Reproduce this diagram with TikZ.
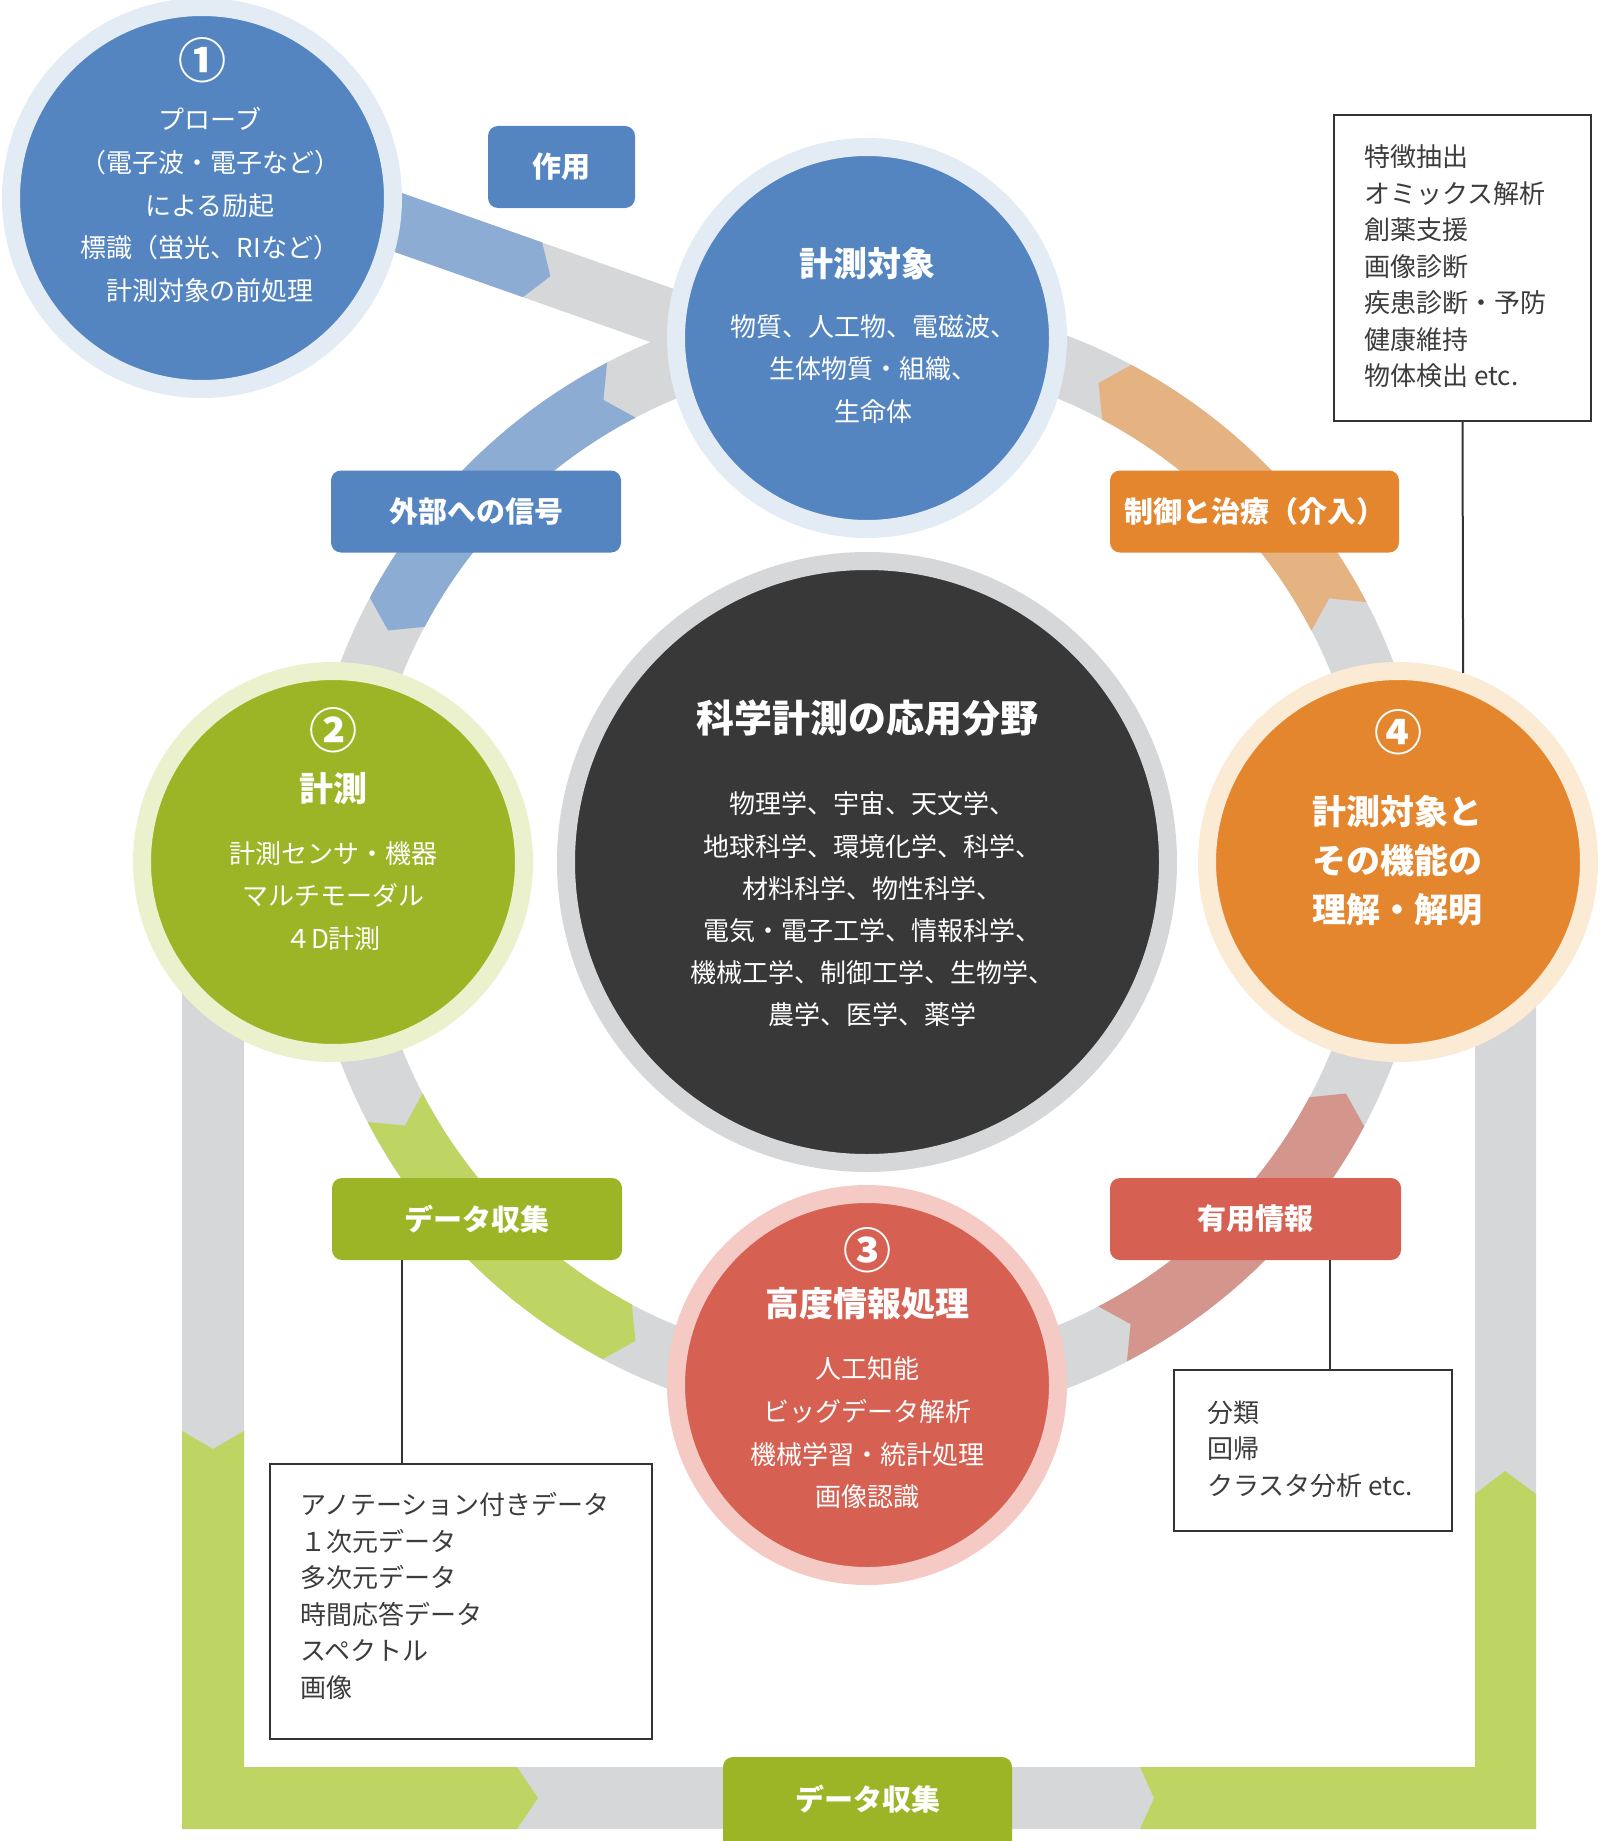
\documentclass[tikz,border=0pt]{standalone}
\usepackage{fontspec}
\setmainfont{Noto Sans CJK JP}
\definecolor{cblue}{HTML}{5485C0}
\definecolor{ablue}{HTML}{8DACD3}
\definecolor{hblue}{HTML}{E3ECF5}
\definecolor{cgreen}{HTML}{9CB526}
\definecolor{agreen}{HTML}{BED564}
\definecolor{hgreen}{HTML}{EBF1CD}
\definecolor{cred}{HTML}{D66152}
\definecolor{ared}{HTML}{D4958C}
\definecolor{hred}{HTML}{F5CAC5}
\definecolor{corange}{HTML}{E3862E}
\definecolor{aorange}{HTML}{E5B282}
\definecolor{horange}{HTML}{FCEBD4}
\definecolor{cdark}{HTML}{383838}
\definecolor{bandgray}{HTML}{D6D7D9}
\definecolor{txtgray}{HTML}{3C3C3C}
\definecolor{boxline}{HTML}{333333}
\begin{document}
\begin{tikzpicture}[x=0.5pt,y=-0.5pt,
  every node/.style={inner sep=0pt},
  body/.style={text=white,align=center,font=\fontsize{13}{21.3}\selectfont},
  heading/.style={text=white,align=center,font=\fontsize{17}{24.5}\selectfont\bfseries},
  num/.style={text=white,font=\fontsize{24}{24}\selectfont\bfseries},
  stage/.style={circle,minimum size=191pt,line width=9pt},
  tag/.style={rounded corners=5pt,minimum height=41pt,text=white,font=\fontsize{14.5}{14.5}\selectfont\bfseries},
  infobox/.style={draw=boxline,line width=1.2pt,fill=white},
  infotext/.style={anchor=west,align=left,text=txtgray,font=\fontsize{13}{18.25}\selectfont},
  link/.style={draw=boxline,line width=1pt}]
  \clip (0,0) rectangle (1600,1841);
  \coordinate (ctr) at (867,862);
  \fill[bandgray,even odd rule] (ctr) circle[radius=563] (ctr) circle[radius=501];
  \fill[bandgray] (219.6,128.9) -- (719.3,304.9) -- (700.1,359.6) -- (200.4,183.6) -- cycle;
  \fill[ablue] (219.6,128.9) -- (542.1,242.4) -- (550.4,276.2) -- (522.9,297.1) -- (200.4,183.6) -- cycle;
  \foreach \col/\a in {aorange/27.5,ablue/117.5,agreen/207.5,ared/297.5} {
    \pgfmathsetmacro\b{\a+34.5}
    \fill[\col] ([shift={(ctr)}]-\a:563) arc[start angle=-\a,end angle=-\b,radius=563]
      -- ([shift={(ctr)}]-\b-2.2:532) -- ([shift={(ctr)}]-\b:501)
      arc[start angle=-\b,end angle=-\a,radius=501]
      -- ([shift={(ctr)}]-\a-2.2:532) -- cycle;
  }
  \fill[bandgray] (182,862) -- (182,1829) -- (1536,1829) -- (1536,862) -- (1475,862) -- (1475,1767) -- (244,1767) -- (244,862) -- cycle;
  \fill[agreen] (182,1431) -- (213,1449) -- (244,1431) -- (244,1767) -- (517,1767) -- (538,1798) -- (517,1829) -- (182,1829) -- cycle;
  \fill[agreen] (1140,1767) -- (1154,1798) -- (1140,1829) -- (1536,1829) -- (1536,1494) -- (1505,1471) -- (1475,1494) -- (1475,1767) -- cycle;

  \node[stage,fill=cblue,draw=hblue] (probe) at (202,198) {};
  \node[stage,fill=cblue,draw=hblue] (target) at (867,338) {};
  \node[stage,fill=cgreen,draw=hgreen] (measure) at (333,862) {};
  \node[stage,fill=corange,draw=horange] (understand) at (1398,862) {};
  \node[stage,fill=cred,draw=hred] (process) at (867,1385) {};
  \node[circle,minimum size=301pt,line width=9pt,fill=cdark,draw=bandgray] (field) at (ctr) {};

  \node[num] (probenum) at (202,60) {①};
  \node[body] (probetxt) at (210,205) {プローブ\\（電子波・電子など）\\による励起\\標識（蛍光、RIなど）\\計測対象の前処理};
  \node[heading] (targethead) at (867,264) {計測対象};
  \node[body] (targettxt) at (873,369) {物質、人工物、電磁波、\\生体物質・組織、\\生命体};
  \node[text=white,font=\fontsize{19}{19}\selectfont\bfseries] (fieldhead) at (867,718) {科学計測の応用分野};
  \node[body,font=\fontsize{13}{21.1}\selectfont] (fieldtxt) at (872,909.5) {物理学、宇宙、天文学、\\地球科学、環境化学、科学、\\材料科学、物性科学、\\電気・電子工学、情報科学、\\機械工学、制御工学、生物学、\\農学、医学、薬学};
  \node[num] (measurenum) at (333,730) {②};
  \node[heading] (measurehead) at (333,789) {計測};
  \node[body] (measuretxt) at (333,896) {計測センサ・機器\\マルチモーダル\\４D計測};
  \node[num] (understandnum) at (1398,732) {④};
  \node[heading] (understandhead) at (1397,861) {計測対象と\\その機能の\\理解・解明};
  \node[num] (processnum) at (867,1250) {③};
  \node[heading] (processhead) at (867,1304) {高度情報処理};
  \node[body] (processtxt) at (867,1433) {人工知能\\ビッグデータ解析\\機械学習・統計処理\\画像認識};

  \node[tag,fill=cblue,minimum width=73.5pt] (act) at (561.5,167) {作用};
  \node[tag,fill=cblue,minimum width=145pt] (signal) at (476,511.5) {外部への信号};
  \node[tag,fill=corange,minimum width=144.5pt] (control) at (1254.5,511.5) {制御と治療（介入）};
  \node[tag,fill=cgreen,minimum width=145pt] (collect) at (477,1219) {データ収集};
  \node[tag,fill=cred,minimum width=145.5pt] (useful) at (1255.5,1219) {有用情報};
  \node[tag,fill=cgreen,minimum width=144.5pt,minimum height=50pt,text depth=0pt] (collectloop) at (867.5,1807) {};
  \node[text=white,font=\fontsize{14.5}{14.5}\selectfont\bfseries] (collectlooptxt) at (867.5,1799) {データ収集};

  \node[infobox,minimum width=128.5pt,minimum height=153pt] (featbox) at (1462.5,268) {};
  \node[infotext] (feattxt) at (1364,266.5) {特徴抽出\\オミックス解析\\創薬支援\\画像診断\\疾患診断・予防\\健康維持\\物体検出 etc.};
  \node[infobox,minimum width=191pt,minimum height=137.5pt] (databox) at (461,1601.5) {};
  \node[infotext] (datatxt) at (300,1596) {アノテーション付きデータ\\１次元データ\\多次元データ\\時間応答データ\\スペクトル\\画像};
  \node[infobox,minimum width=139pt,minimum height=80.5pt] (clsbox) at (1313,1450.5) {};
  \node[infotext] (clstxt) at (1207,1449) {分類\\回帰\\クラスタ分析 etc.};

  \draw[link] (featbox.south) -- (understand.71);
  \draw[link] ([xshift=-37.5pt]collect.south) -- ([xshift=-37.5pt]collect.south |- databox.north);
  \draw[link] ([xshift=37.25pt]useful.south) -- ([xshift=37.25pt]useful.south |- clsbox.north);
\end{tikzpicture}
\end{document}
